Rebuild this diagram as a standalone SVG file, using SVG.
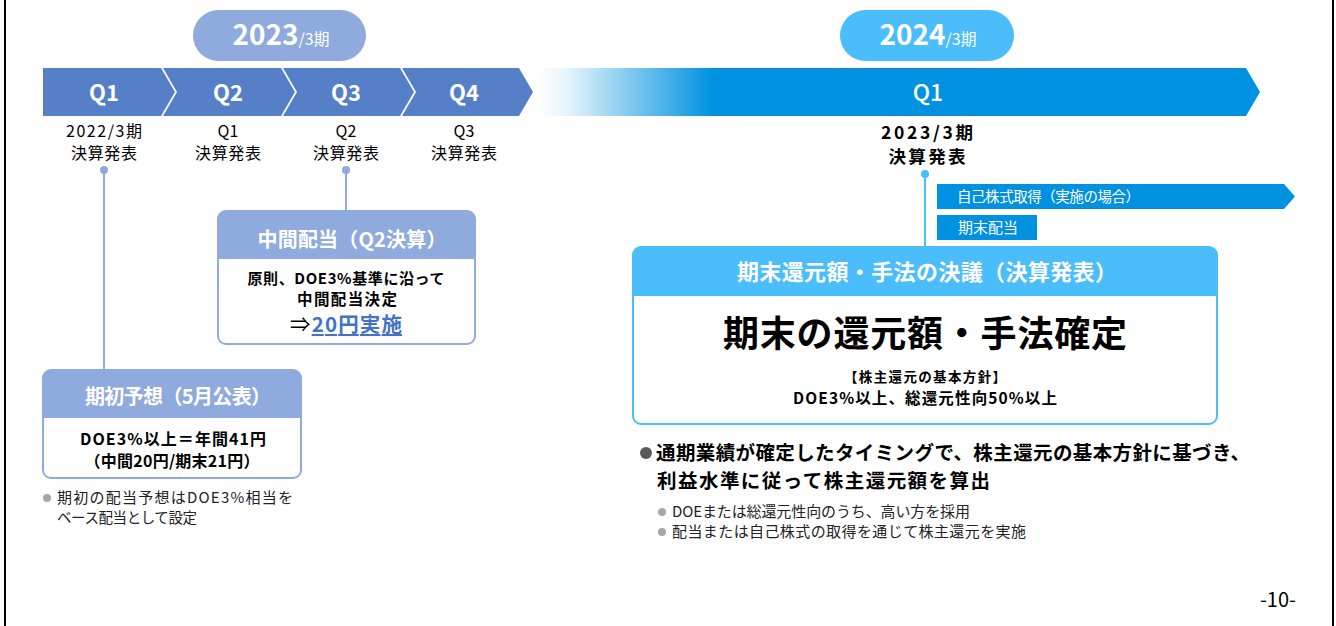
<svg xmlns="http://www.w3.org/2000/svg" width="1336" height="626" viewBox="0 0 1336 626">
<defs>
<linearGradient id="fade" x1="537" y1="0" x2="712" y2="0" gradientUnits="userSpaceOnUse">
<stop offset="0" stop-color="#0092e0" stop-opacity="0"/>
<stop offset="0.15" stop-color="#0092e0" stop-opacity="0.08"/>
<stop offset="1" stop-color="#0092e0" stop-opacity="1"/>
</linearGradient>
<style>
text{font-family:"Noto Sans CJK JP","Noto Sans",sans-serif;}
.q{font-size:22px;font-weight:bold;fill:#fff;text-anchor:middle;}
.lbl{font-size:16px;fill:#000;text-anchor:middle;}
.hdr{font-weight:bold;fill:#fff;text-anchor:middle;}
.body{font-weight:bold;fill:#000;text-anchor:middle;}
.note{fill:#222;}
.dotg{fill:#a6a6a6;}
.blue1{fill:#8faadc;}
.blue2{fill:#4bbdfb;}
.chev{fill:#5580c8;}
</style>
</defs>
<rect x="0" y="0" width="1336" height="626" fill="#fff"/>
<line x1="5" y1="0" x2="5" y2="626" stroke="#000" stroke-width="2"/>
<line x1="1333" y1="0" x2="1333" y2="626" stroke="#000" stroke-width="2"/>

<g id="pill-2023">
<rect x="193" y="10" width="173" height="51" rx="25.5" class="blue1"/>
<text x="281" y="45" text-anchor="middle" fill="#fff"><tspan font-size="28" font-weight="bold">2023</tspan><tspan font-size="16">/3期</tspan></text>
</g>
<g id="pill-2024">
<rect x="840" y="10" width="174" height="51" rx="25.5" class="blue2"/>
<text x="928" y="45" text-anchor="middle" fill="#fff"><tspan font-size="28" font-weight="bold">2024</tspan><tspan font-size="16">/3期</tspan></text>
</g>

<g id="q1-2023">
<polygon points="43,68 161,68 175,92 161,116 43,116" class="chev"/>
<text x="104" y="101" class="q">Q1</text>
</g>
<g id="q2-2023">
<polygon points="163,68 281,68 295,92 281,116 163,116 177,92" class="chev"/>
<text x="228" y="101" class="q">Q2</text>
</g>
<g id="q3-2023">
<polygon points="283,68 400,68 414,92 400,116 283,116 297,92" class="chev"/>
<text x="346" y="101" class="q">Q3</text>
</g>
<g id="q4-2023">
<polygon points="402,68 519,68 533,92 519,116 402,116 416,92" class="chev"/>
<text x="464" y="101" class="q">Q4</text>
</g>
<g id="q1-2024">
<polygon points="537,68 1246,68 1260,92 1246,116 537,116" fill="url(#fade)"/>
<text x="928" y="101" class="q" style="font-weight:500;font-size:23px">Q1</text>
</g>

<g id="labels">
<text class="lbl" x="104" y="137" textLength="76">2022/3期</text>
<text class="lbl" x="104" y="159" textLength="66">決算発表</text>
<text class="lbl" x="228" y="137">Q1</text>
<text class="lbl" x="228" y="159" textLength="66">決算発表</text>
<text class="lbl" x="346" y="137">Q2</text>
<text class="lbl" x="346" y="159" textLength="66">決算発表</text>
<text class="lbl" x="464" y="137">Q3</text>
<text class="lbl" x="464" y="159" textLength="66">決算発表</text>
<text class="lbl" x="927" y="138.5" style="font-size:17.5px;font-weight:bold" textLength="92">2023/3期</text>
<text class="lbl" x="927" y="163" style="font-size:17.5px;font-weight:bold" textLength="77">決算発表</text>
</g>

<g id="connectors">
<circle cx="104" cy="170" r="4" class="blue1"/>
<line x1="104" y1="170" x2="104" y2="371" stroke="#8faadc" stroke-width="2"/>
<circle cx="346" cy="170" r="4" class="blue1"/>
<line x1="346" y1="170" x2="346" y2="212" stroke="#8faadc" stroke-width="2"/>
<circle cx="925" cy="174" r="4" class="blue2"/>
<line x1="925" y1="174" x2="925" y2="248" stroke="#4bbdfb" stroke-width="2"/>
</g>

<g id="interim">
<rect x="218" y="211" width="257" height="133" rx="8" fill="#fff" stroke="#8faadc" stroke-width="2"/>
<path d="M218,259 V219 a8,8 0 0 1 8,-8 H467 a8,8 0 0 1 8,8 V259 Z" class="blue1"/>
<text x="352" y="247" class="hdr" font-size="20" textLength="189">中間配当（Q2決算）</text>
<text x="346" y="284" class="body" font-size="15" textLength="197">原則、DOE3%基準に沿って</text>
<text x="347" y="305" class="body" font-size="15.5" textLength="100">中間配当決定</text>
<text x="346" y="332" class="body" font-size="20.5" textLength="112"><tspan font-weight="normal">⇒</tspan><tspan fill="#4472c4" text-decoration="underline">20円実施</tspan></text>
</g>

<g id="forecast">
<rect x="43" y="370" width="258" height="108" rx="8" fill="#fff" stroke="#8faadc" stroke-width="2"/>
<path d="M43,418 V378 a8,8 0 0 1 8,-8 H293 a8,8 0 0 1 8,8 V418 Z" class="blue1"/>
<text x="178" y="404" class="hdr" font-size="20" textLength="186">期初予想（5月公表）</text>
<text x="173" y="445" class="body" font-size="16" textLength="186">DOE3%以上＝年間41円</text>
<text x="172" y="467" class="body" font-size="16" textLength="175">（中間20円/期末21円）</text>
</g>
<g id="forecast-note">
<circle cx="47" cy="498" r="4" class="dotg"/>
<text x="57" y="503" class="note" font-size="15" textLength="236">期初の配当予想はDOE3%相当を</text>
<text x="57" y="523" class="note" font-size="14.5" textLength="140">ベース配当として設定</text>
</g>

<g id="buyback">
<polygon points="937,184 1284,184 1295,196.5 1284,209 937,209" fill="#0092e0"/>
<text x="957" y="202" font-size="14.5" fill="#fff" textLength="183">自己株式取得（実施の場合）</text>
</g>
<g id="yearend-div">
<rect x="937" y="215" width="100" height="25" fill="#0092e0"/>
<text x="958" y="233" font-size="15" fill="#fff" textLength="60">期末配当</text>
</g>

<g id="resolution">
<rect x="633" y="247" width="584" height="177" rx="8" fill="#fff" stroke="#4bbdfb" stroke-width="2"/>
<path d="M633,296 V255 a8,8 0 0 1 8,-8 H1209 a8,8 0 0 1 8,8 V296 Z" class="blue2"/>
<text x="927" y="280" class="hdr" font-size="22" textLength="380">期末還元額・手法の決議（決算発表）</text>
<text x="925" y="347" class="body" font-size="36" textLength="404">期末の還元額・手法確定</text>
<text x="925" y="382" class="body" font-size="13.5" textLength="162">【株主還元の基本方針】</text>
<text x="925" y="403.5" class="body" font-size="15.5" textLength="264">DOE3%以上、総還元性向50%以上</text>
</g>

<g id="summary">
<circle cx="646" cy="453" r="6" fill="#595959"/>
<text x="656" y="460" font-size="19.5" font-weight="bold" fill="#000" textLength="594">通期業績が確定したタイミングで、株主還元の基本方針に基づき、</text>
<text x="657" y="488" font-size="19.5" font-weight="bold" fill="#000" textLength="333">利益水準に従って株主還元額を算出</text>
<circle cx="662" cy="512" r="4" class="dotg"/>
<text x="672" y="517" class="note" font-size="15" textLength="298">DOEまたは総還元性向のうち、高い方を採用</text>
<circle cx="662" cy="532" r="4" class="dotg"/>
<text x="672" y="537" class="note" font-size="15" textLength="354">配当または自己株式の取得を通じて株主還元を実施</text>
</g>

<text x="1296" y="607" font-size="20" fill="#000" text-anchor="end" font-family="DejaVu Sans, sans-serif">-10-</text>
</svg>
